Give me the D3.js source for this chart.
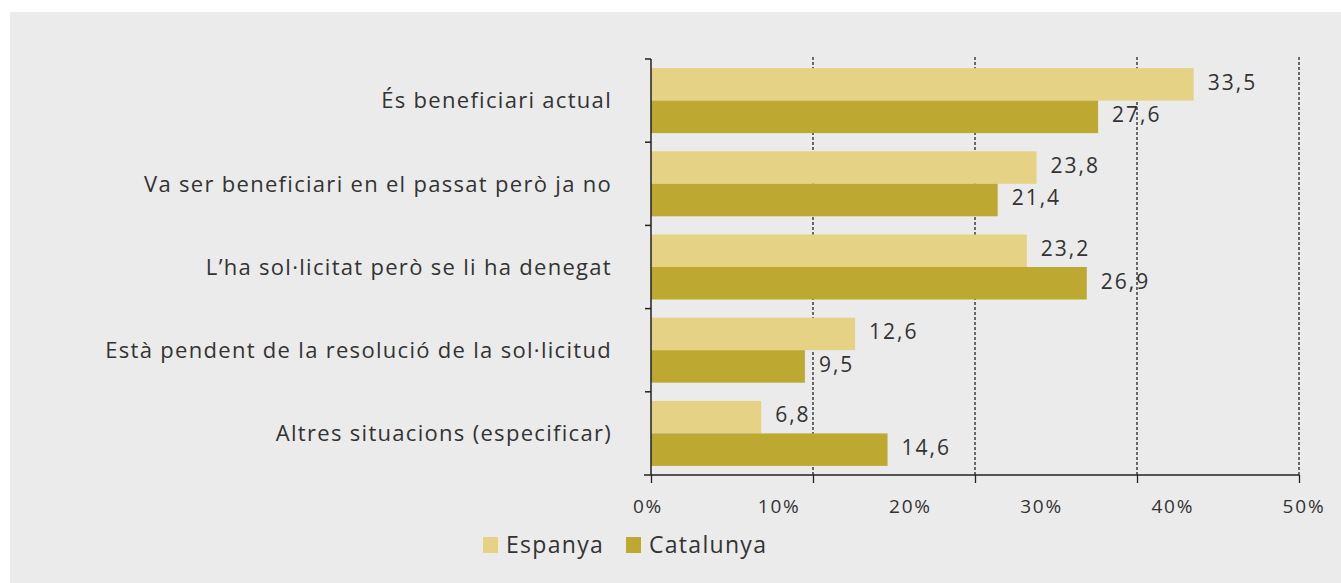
<!DOCTYPE html>
<html>
<head>
<meta charset="utf-8">
<script src="https://cdn.jsdelivr.net/npm/d3@7"></script>
<style>
  body { margin: 0; background: #fff; }
  text { font-family: "Open Sans", Lato, sans-serif; fill: #333; }
</style>
</head>
<body>
<div id="chart"></div>
<script>
var categories = [
    "És beneficiari actual",
    "Va ser beneficiari en el passat però ja no",
    "L’ha sol·licitat però se li ha denegat",
    "Està pendent de la resolució de la sol·licitud",
    "Altres situacions (especificar)"
];
var espanya = [33.5, 23.8, 23.2, 12.6, 6.8];
var catalunya = [27.6, 21.4, 26.9, 9.5, 14.6];
var seriesNames = ["Espanya", "Catalunya"];
var gridValues = [0, 10, 20, 30, 40];
var tickLabels = ["0%", "10%", "20%", "30%", "40%", "50%"];

var width = 1341, height = 583;

var colors = d3.scaleOrdinal()
    .domain(seriesNames)
    .range(["#e5d285", "#bda832"]);

var svg = d3.select("#chart")
    .append("svg")
    .attr("width", width)
    .attr("height", height);

// grey panel
svg.append("rect")
    .attr("x", 10).attr("y", 12)
    .attr("width", width - 10).attr("height", height - 12)
    .attr("fill", "#ebebeb");

var x = d3.scaleLinear().domain([0, 40]).range([651, 1299]);
// labels on the original are spread evenly and don't sit on the gridlines
var xLab = d3.scaleLinear().domain([0, tickLabels.length - 1]).range([648, 1304]);

var y = d3.scaleBand().domain(categories).range([59, 475]);
var y1 = d3.scaleBand().domain(seriesNames).range([0, y.bandwidth()]).paddingOuter(0.28);

// dashed gridlines
svg.append("g")
    .selectAll("line")
    .data(gridValues.slice(1))
    .join("line")
        .attr("x1", d => x(d)).attr("x2", d => x(d))
        .attr("y1", 57).attr("y2", 475)
        .attr("stroke", "#222")
        .attr("stroke-width", 1.3)
        .attr("stroke-dasharray", "3,2");

// groups of bars
var rows = categories.map(function(c, i) {
    return {cat: c, values: [
        {name: "Espanya", v: espanya[i]},
        {name: "Catalunya", v: catalunya[i]}
    ]};
});

var group = svg.append("g")
    .selectAll("g")
    .data(rows)
    .join("g")
        .attr("transform", d => "translate(0," + y(d.cat) + ")");

group.selectAll("rect")
    .data(d => d.values)
    .join("rect")
        .attr("x", x(0))
        .attr("y", d => y1(d.name))
        .attr("width", d => x(d.v) - x(0))
        .attr("height", y1.bandwidth())
        .attr("fill", d => colors(d.name));

group.selectAll("text.val")
    .data(d => d.values)
    .join("text")
        .attr("class", "val")
        .attr("x", d => x(d.v) + 14)
        .attr("y", d => y1(d.name) + y1.bandwidth() / 2 - 2)
        .attr("dy", "0.35em")
        .style("font-size", "21px")
        .style("letter-spacing", "2px")
        .text(d => String(d.v.toFixed(1)).replace(".", ","));

// category labels
svg.append("g")
    .selectAll("text")
    .data(categories)
    .join("text")
        .attr("x", 612)
        .attr("y", d => y(d) + y.bandwidth() / 2)
        .attr("dy", "0.35em")
        .attr("text-anchor", "end")
        .style("font-size", "22px")
        .style("letter-spacing", "1.3px")
        .text(d => d);

// x axis: ticks only, labels placed separately
var xAxis = svg.append("g")
    .attr("transform", "translate(0,475)")
    .call(d3.axisBottom(x).tickValues(gridValues).tickSize(8).tickFormat(""));
xAxis.select(".domain").remove();
xAxis.selectAll("line").attr("stroke", "#222").attr("stroke-width", 1.3);
svg.append("line")
    .attr("x1", 644).attr("x2", x(40))
    .attr("y1", 475).attr("y2", 475)
    .attr("stroke", "#222").attr("stroke-width", 1.5);

svg.append("g")
    .selectAll("text")
    .data(tickLabels)
    .join("text")
        .attr("x", (d, i) => xLab(i))
        .attr("y", 506)
        .attr("dy", "0.35em")
        .attr("text-anchor", "middle")
        .style("font-size", "19px")
        .style("letter-spacing", "1.8px")
        .text(d => d);

// y axis line with ticks at band boundaries
svg.append("line")
    .attr("x1", x(0)).attr("x2", x(0))
    .attr("y1", 59).attr("y2", 475)
    .attr("stroke", "#222").attr("stroke-width", 1.5);
svg.append("g")
    .selectAll("line")
    .data(categories)
    .join("line")
        .attr("x1", x(0) - 6).attr("x2", x(0))
        .attr("y1", d => y(d)).attr("y2", d => y(d))
        .attr("stroke", "#222").attr("stroke-width", 1.5);

// legend
var legendX = [483, 626];
var legend = svg.append("g")
    .selectAll("g")
    .data(seriesNames)
    .join("g")
        .attr("transform", (d, i) => "translate(" + legendX[i] + ",537)");
legend.append("rect")
    .attr("width", 15).attr("height", 16)
    .attr("fill", d => colors(d));
legend.append("text")
    .attr("x", 23).attr("y", 8)
    .attr("dy", "0.35em")
    .style("font-size", "23px")
    .style("letter-spacing", "1.3px")
    .text(d => d);
</script>
</body>
</html>
